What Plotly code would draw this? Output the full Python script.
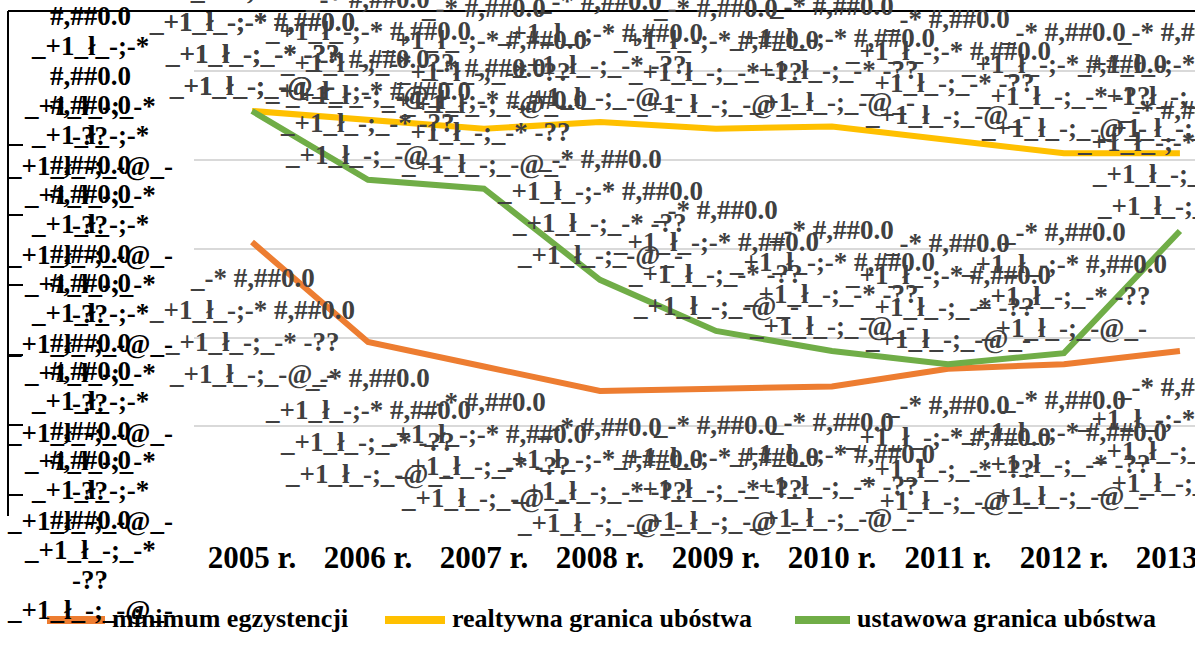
import plotly.graph_objects as go

# values (% of population)
years = ["2005 r.", "2006 r.", "2007 r.", "2008 r.", "2009 r.", "2010 r.", "2011 r.", "2012 r.", "2013 r."]
minimum_egz = [12.3, 7.8, 6.7, 5.6, 5.7, 5.8, 6.6, 6.8, 7.4]
relatywna = [18.2, 17.8, 17.4, 17.7, 17.4, 17.5, 16.9, 16.3, 16.3]
ustawowa = [18.2, 15.1, 14.7, 10.6, 8.3, 7.4, 6.8, 7.3, 12.8]
series_names = ["minimum egzystencji", "realtywna granica ubóstwa", "ustawowa granica ubóstwa"]
y_ticks = [0, 4, 8, 12, 16, 20]

# the broken number format that Excel printed instead of the numbers
label_lines = ["_-* #,##0.0", "_+1_ł_-;-* #,##0.0", "_+1_ł_-;_-* -??", "_+1_ł_-;_-@_-"]
axis_lines = ["#,##0.0", "_+1_ł_-;-*", "#,##0.0", "_+1_ł_-;_-*", "-??", "_+1_ł_-;_-@_-"]

W, H = 1195, 650
MT = 11
SERIF = "Times New Roman, Liberation Serif, serif"
ORANGE, YELLOW, GREEN = "#ED7D31", "#FFC000", "#70AD47"


# convert positions measured on the screenshot to paper fractions
def px_x(px):
    return px / W


def px_y(py):
    return (H - py) / (H - MT)


def bold(s):
    return "<b>" + s + "</b>"


fig = go.Figure()
for name, vals, color in [
    (series_names[0], minimum_egz, ORANGE),
    (series_names[1], relatywna, YELLOW),
    (series_names[2], ustawowa, GREEN),
]:
    fig.add_trace(go.Scatter(x=years, y=vals, mode="lines", name=name,
                             line=dict(color=color, width=6), showlegend=False))

lab_font = dict(family=SERIF, size=27, color="#404040")
annotations = []
# data labels: orange below the points, the two others above
for vals, below in [(minimum_egz, True), (relatywna, False), (ustawowa, False)]:
    for yr, v in zip(years, vals):
        for i, txt in enumerate(label_lines):
            shift = -36 - 32 * i if below else 25 + 32 * (3 - i)
            annotations.append(dict(x=yr, y=v, xref="x", yref="y", text=bold(txt), showarrow=False,
                                    yshift=shift, xanchor="center", yanchor="middle", font=lab_font))

# y axis labels, stacked and overlapping
ax_font = dict(family=SERIF, size=27, color="#000000")
for t in y_ticks:
    for i, txt in enumerate(axis_lines):
        annotations.append(dict(x=px_x(90), y=t, xref="paper", yref="y", text=bold(txt), showarrow=False,
                                yshift=-20 - (i - 2.5) * 30, xanchor="center", yanchor="middle",
                                font=ax_font))

# hand-made legend at the bottom
leg_font = dict(family=SERIF, size=26, color="#000000")
shapes = []
for (x0, x1, tx), color, name in zip([(47, 105, 110), (385, 445, 450), (795, 850, 855)],
                                     [ORANGE, YELLOW, GREEN], series_names):
    shapes.append(dict(type="line", xref="paper", yref="paper", x0=px_x(x0), x1=px_x(x1),
                       y0=px_y(620), y1=px_y(620), line=dict(color=color, width=8)))
    annotations.append(dict(x=px_x(tx), y=px_y(618), xref="paper", yref="paper", text=bold(name),
                            showarrow=False, xanchor="left", yanchor="middle", font=leg_font))

# chart frame top edge
shapes.append(dict(type="line", xref="paper", yref="paper", x0=px_x(8), x1=1, y0=1, y1=1,
                   line=dict(color="black", width=2)))

fig.update_layout(
    width=W, height=H,
    margin=dict(l=0, r=0, t=MT, b=0, autoexpand=False),
    paper_bgcolor="white", plot_bgcolor="white",
    xaxis=dict(domain=[px_x(194), 1], range=[-0.5, 8.13], showgrid=False, showline=False,
               zeroline=False, ticks="", ticklabelstandoff=20, automargin=False,
               tickvals=years, ticktext=[bold(y) for y in years],
               tickfont=dict(family=SERIF, size=31, color="black")),
    yaxis=dict(domain=[px_y(516), 1], range=[-0.03, 22.7], tickvals=y_ticks, showticklabels=False,
               showgrid=True, gridcolor="#D9D9D9", gridwidth=2, zeroline=False, showline=False,
               automargin=False),
    yaxis2=dict(domain=[0, 1], overlaying="y", anchor="free", position=px_x(8), side="left",
                range=[-1.17, 27.61], tickvals=y_ticks, showticklabels=False, showgrid=False,
                zeroline=False, showline=True, linecolor="black", linewidth=2, automargin=False,
                ticks="inside", ticklen=14, tickwidth=2, tickcolor="black"),
    annotations=annotations,
    shapes=shapes,
)
# dummy trace so the second axis is drawn
fig.add_trace(go.Scatter(x=[years[0]], y=[None], yaxis="y2", showlegend=False, hoverinfo="skip"))

# drop the default page margin so the figure fills the window without scrollbars
fig.write_html("out.html", config={"displayModeBar": False},
               post_script="document.body.style.margin='0';document.body.style.overflow='hidden';")
